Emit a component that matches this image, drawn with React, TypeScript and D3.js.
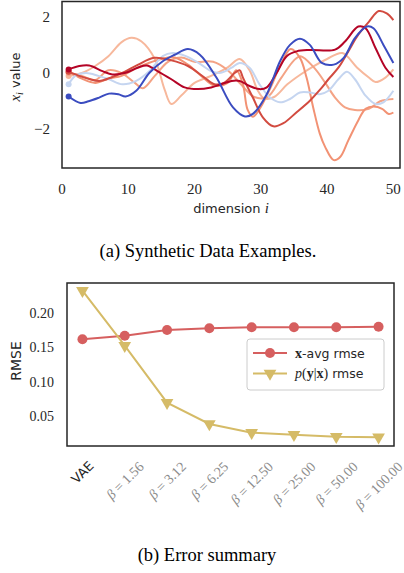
import React, { useEffect, useRef } from "react";
import * as d3 from "d3";

// synthetic examples: [dimension, value]
const blueSeries = [[1,-0.83],[2.8,-1.06],[4,-1.0],[5.6,-0.87],[7.1,-0.73],[8.5,-0.75],[9.6,-0.83],[11.2,-0.63],[13.2,0.01],[15.2,0.42],[17,0.65],[19,0.85],[20.8,0.65],[23.3,-0.16],[25.8,-1.22],[27.6,-1.54],[28.8,-1.45],[30.9,-0.75],[32.9,0.42],[34.4,1.0],[35.9,1.22],[37.4,1.0],[39.2,0.36],[41,0.3],[42.5,0.54],[44.2,1.24],[46,1.65],[47,1.59],[48.5,1.0],[50,0.36]];
const lightBlueSeries = [[1,-0.4],[2,-0.1],[3.6,0.0],[5.5,-0.1],[7.1,-0.22],[9.1,-0.4],[11.2,-0.28],[13.2,0.07],[15.2,0.6],[16.7,0.71],[18.7,0.6],[21,0.3],[22.5,0.07],[24,0.01],[25.6,0.19],[26.8,0.36],[28.3,0.19],[29.8,-0.4],[31.4,-0.87],[32.9,-1.04],[34.4,-0.92],[35.9,-0.69],[37.4,-0.69],[38.9,-0.75],[40.2,-0.63],[41.7,-0.22],[43,0.05],[44.2,-0.22],[45.8,-0.8],[47.3,-1.1],[48.5,-1.04],[50,-0.63]];
const darkRedSeries = [[1,0.13],[2.6,0.25],[4.1,0.27],[6.1,0.07],[7.6,-0.05],[9.6,0.01],[11.5,0.2],[12.8,0.27],[14.4,0.07],[16.5,-0.22],[18.5,-0.51],[20.5,-0.57],[22.5,-0.51],[24,-0.4],[25.6,-0.28],[26.8,-0.28],[28.3,-0.46],[29.8,-0.57],[30.9,-0.51],[32.4,0.01],[33.9,0.6],[35.4,0.77],[37.4,0.82],[41.2,0.83],[42.7,1.12],[44.7,1.65],[45.8,1.59],[47.3,0.89],[48.8,0.19],[50,-0.14]];
const redSeries = [[1,0.05],[2.6,-0.1],[4,-0.2],[5.6,-0.28],[7.5,-0.15],[9.5,0.05],[11.5,0.3],[13.9,0.54],[16.5,0.45],[19,0.25],[21.5,-0.16],[23,-0.4],[24.5,-0.34],[26.1,0.01],[26.8,0.1],[27.3,-0.16],[28.8,-0.87],[30.3,-1.57],[31.9,-1.89],[33.4,-1.78],[35.4,-1.39],[37.4,-0.98],[38.9,-0.6],[40.2,-0.22],[41.7,0.19],[43.2,0.77],[44.7,1.36],[46.3,1.82],[47.8,2.2],[49,2.12],[50,1.88]];
const salmonPeakSeries = [[1,-0.1],[3,0.0],[5,0.25],[7,0.6],[9,1.1],[10.5,1.25],[12,1.12],[14,0.5],[15.5,-0.6],[16.5,-1.1],[18,-0.8],[20,-0.35],[22.5,-0.1],[25,0.2],[26.8,0.5],[28.3,0.1],[29.5,-0.6],[30.5,-0.9],[32,-0.85],[34,-0.4],[36,-0.05],[38,0.25],[40,0.5],[42.3,0.71],[44.5,0.2],[46.3,-0.16],[47.3,-0.32],[48.8,-0.16],[50,0.13]];
const salmonMidSeries = [[1,0.0],[3,-0.1],[5,-0.25],[7,0.1],[9,0.0],[11,-0.35],[12.2,-0.54],[14,-0.1],[16,0.4],[18,0.55],[20,0.4],[22.8,0.4],[25,0.1],[27,-0.4],[29,-0.85],[31,-0.85],[33,-0.2],[35,0.45],[36,0.6],[38,0.2],[39.7,-0.34],[41.2,-0.87],[42.7,-1.22],[44.2,-1.31],[46.3,-1.27],[48,-1.0],[50,-0.92]];
const salmonDipSeries = [[1,0.05],[3,-0.2],[5,-0.35],[7,-0.2],[9,-0.1],[11,0.15],[13,0.35],[15,0.5],[17,0.55],[19,0.3],[21,-0.1],[23,-0.45],[25,-0.35],[26.3,0.1],[27.3,-0.4],[28,-1.3],[28.8,-1.55],[30,-1.2],[31.5,-0.5],[33,0.3],[34.5,0.85],[35.9,0.54],[36.9,-0.16],[37.9,-1.22],[38.9,-2.15],[39.7,-2.62],[41,-3.09],[42,-2.97],[43.2,-2.39],[44.7,-1.68],[45.8,-1.27],[47,-1.19],[48.3,-1.27],[49.3,-1.45],[50,-1.4]];

const exampleSeries = [salmonPeakSeries, salmonMidSeries, salmonDipSeries, lightBlueSeries, redSeries, darkRedSeries, blueSeries];
const exampleColors = ["#f7b89c", "#f4a385", "#f29274", "#c5d5f0", "#d24b40", "#b40426", "#3b4cc0"];

const topXTicks = [0, 10, 20, 30, 40, 50];
const topYTicks = [2, 0, -2];

// error summary
const methods = ["VAE", "1.56", "3.12", "6.25", "12.50", "25.00", "50.00", "100.00"];
const xAvgRmse = [0.1617, 0.1669, 0.1752, 0.1777, 0.1792, 0.1792, 0.1792, 0.18];
const pyxRmse = [0.2325, 0.1524, 0.0694, 0.0384, 0.0257, 0.0228, 0.0199, 0.019];
const bottomYTicks = [0.05, 0.1, 0.15, 0.2];

const SERIF = "'Liberation Serif', 'DejaVu Serif', serif";
const SANS = "'DejaVu Sans', sans-serif";
const RED = "#d65f5f";
const YELLOW = "#d5bb67";

export default function App() {
  const svgRef = useRef<SVGSVGElement>(null);

  useEffect(() => {
    const svg = d3.select(svgRef.current);
    svg.selectAll("*").remove();

    // ---------- top panel ----------
    const t = { left: 62, right: 400, top: 1.5, bottom: 168 };
    const x1 = d3.scaleLinear().domain([0, 51]).range([t.left, t.right]);
    const y1 = d3.scaleLinear().domain([-3.37, 2.54]).range([t.bottom, t.top]);

    const top = svg.append("g");
    const line = d3.line<number[]>()
      .x(d => x1(d[0]))
      .y(d => y1(d[1]))
      .curve(d3.curveCatmullRom.alpha(0.5));

    exampleSeries.forEach((s, i) => {
      top.append("path")
        .attr("d", line(s))
        .attr("fill", "none")
        .attr("stroke", exampleColors[i])
        .attr("stroke-width", 2);
      top.append("circle")
        .attr("cx", x1(s[0][0]))
        .attr("cy", y1(s[0][1]))
        .attr("r", 3)
        .attr("fill", exampleColors[i]);
    });

    top.append("rect")
      .attr("x", t.left).attr("y", t.top)
      .attr("width", t.right - t.left).attr("height", t.bottom - t.top)
      .attr("fill", "none").attr("stroke", "#262626").attr("stroke-width", 1.5);

    topXTicks.forEach(v => {
      top.append("text")
        .attr("x", x1(v)).attr("y", 193.5)
        .attr("text-anchor", "middle")
        .style("font-family", SERIF).style("font-size", "15px").attr("fill", "#262626")
        .text(v);
    });
    topYTicks.forEach(v => {
      top.append("text")
        .attr("x", 50).attr("y", y1(v) + 5)
        .attr("text-anchor", "end")
        .style("font-family", SERIF).style("font-size", "15px").attr("fill", "#262626")
        .text(v < 0 ? "\u2212" + Math.abs(v) : v);
    });

    const xl = top.append("text")
      .attr("x", 231).attr("y", 213)
      .attr("text-anchor", "middle")
      .style("font-family", SANS).style("font-size", "13px").attr("fill", "#262626");
    xl.append("tspan").text("dimension ");
    xl.append("tspan").style("font-family", SERIF).style("font-style", "italic").style("font-size", "15px").text("i");

    const yl = top.append("text")
      .attr("transform", "translate(20,77) rotate(-90)")
      .attr("text-anchor", "middle")
      .style("font-family", SANS).style("font-size", "13px").attr("fill", "#262626");
    yl.append("tspan").style("font-family", SERIF).style("font-style", "italic").style("font-size", "15px").text("x");
    yl.append("tspan").style("font-family", SERIF).style("font-style", "italic").style("font-size", "10px").attr("dy", 3).text("i");
    yl.append("tspan").attr("dy", -3).text(" value");

    svg.append("text")
      .attr("x", 208).attr("y", 257)
      .attr("text-anchor", "middle")
      .style("font-family", SERIF).style("font-size", "18.5px").attr("fill", "#000")
      .text("(a) Synthetic Data Examples.");

    // ---------- bottom panel ----------
    const b = { left: 67, right: 394, top: 283, bottom: 446 };
    const x2 = d3.scalePoint<string>().domain(methods).range([b.left, b.right]).padding(0.365);
    const y2 = d3.scaleLinear().domain([0.0063, 0.2437]).range([b.bottom, b.top]);
    const bot = svg.append("g");

    const line2 = d3.line<number>()
      .x((_, i) => x2(methods[i]) as number)
      .y(d => y2(d));

    bot.append("path").attr("d", line2(xAvgRmse))
      .attr("fill", "none").attr("stroke", RED).attr("stroke-width", 2);
    bot.selectAll(".redpt").data(xAvgRmse).enter().append("circle")
      .attr("cx", (_, i) => x2(methods[i]) as number)
      .attr("cy", d => y2(d))
      .attr("r", 5).attr("fill", RED);

    const tri = d3.symbol().type(d3.symbolTriangle).size(70);
    bot.append("path").attr("d", line2(pyxRmse))
      .attr("fill", "none").attr("stroke", YELLOW).attr("stroke-width", 2);
    bot.selectAll(".ylpt").data(pyxRmse).enter().append("path")
      .attr("d", tri)
      .attr("transform", (d, i) => `translate(${x2(methods[i])},${y2(d)}) rotate(180)`)
      .attr("fill", YELLOW);

    bot.append("rect")
      .attr("x", b.left).attr("y", b.top)
      .attr("width", b.right - b.left).attr("height", b.bottom - b.top)
      .attr("fill", "none").attr("stroke", "#262626").attr("stroke-width", 1.5);

    bottomYTicks.forEach(v => {
      bot.append("text")
        .attr("x", 54).attr("y", y2(v) + 5)
        .attr("text-anchor", "end")
        .style("font-family", SERIF).style("font-size", "14px").attr("fill", "#262626")
        .text(d3.format(".2f")(v));
    });

    bot.append("text")
      .attr("transform", "translate(21,361) rotate(-90)")
      .attr("text-anchor", "middle")
      .style("font-family", SANS).style("font-size", "14px").attr("fill", "#262626")
      .text("RMSE");

    // rotated category labels, centred on the tick like matplotlib
    methods.forEach((m, i) => {
      const g = bot.append("text")
        .attr("text-anchor", "middle")
        .attr("dominant-baseline", "central");
      let fs = 14;
      if (m === "VAE") {
        fs = 13;
        g.style("font-family", SANS).style("font-size", "13px").attr("fill", "#262626").text("VAE");
      } else {
        g.style("font-family", SERIF).style("font-size", "14px").attr("fill", "#8c8c8c");
        g.append("tspan").style("font-style", "italic").text("\u03b2");
        g.append("tspan").text(" = " + m);
      }
      const len = (g.node() as SVGTextElement).getComputedTextLength();
      const h = (len + fs) * Math.SQRT1_2;
      g.attr("transform", `translate(${x2(m)},${459 + h / 2}) rotate(-45)`);
    });

    // legend
    const lg = bot.append("g");
    lg.append("rect")
      .attr("x", 247).attr("y", 339).attr("width", 137).attr("height", 51)
      .attr("rx", 3).attr("fill", "#fff").attr("fill-opacity", 0.85)
      .attr("stroke", "#cccccc").attr("stroke-width", 1);
    lg.append("line").attr("x1", 253).attr("x2", 287).attr("y1", 353).attr("y2", 353)
      .attr("stroke", RED).attr("stroke-width", 2);
    lg.append("circle").attr("cx", 270).attr("cy", 353).attr("r", 5).attr("fill", RED);
    lg.append("line").attr("x1", 253).attr("x2", 287).attr("y1", 373.5).attr("y2", 373.5)
      .attr("stroke", YELLOW).attr("stroke-width", 2);
    lg.append("path").attr("d", tri).attr("transform", "translate(270,373.5) rotate(180)").attr("fill", YELLOW);

    const l1 = lg.append("text").attr("x", 295).attr("y", 357.5)
      .style("font-family", SANS).style("font-size", "12.5px").attr("fill", "#262626");
    l1.append("tspan").style("font-family", SERIF).style("font-weight", "bold").style("font-size", "14px").text("x");
    l1.append("tspan").text("-avg rmse");

    const l2 = lg.append("text").attr("x", 295).attr("y", 378)
      .style("font-family", SANS).style("font-size", "12.5px").attr("fill", "#262626");
    l2.append("tspan").style("font-family", SERIF).style("font-style", "italic").style("font-size", "14px").text("p");
    l2.append("tspan").style("font-family", SERIF).style("font-size", "14px").text("(");
    l2.append("tspan").style("font-family", SERIF).style("font-weight", "bold").style("font-size", "14px").text("y");
    l2.append("tspan").style("font-family", SERIF).style("font-size", "14px").text("|");
    l2.append("tspan").style("font-family", SERIF).style("font-weight", "bold").style("font-size", "14px").text("x");
    l2.append("tspan").style("font-family", SERIF).style("font-size", "14px").text(")");
    l2.append("tspan").text(" rmse");

    svg.append("text")
      .attr("x", 207).attr("y", 561)
      .attr("text-anchor", "middle")
      .style("font-family", SERIF).style("font-size", "18.5px").attr("fill", "#000")
      .text("(b) Error summary");
  }, []);

  return (
    <svg
      ref={svgRef}
      width={404}
      height={573}
      style={{ position: "absolute", left: 0, top: 0, background: "#fff" }}
    />
  );
}
